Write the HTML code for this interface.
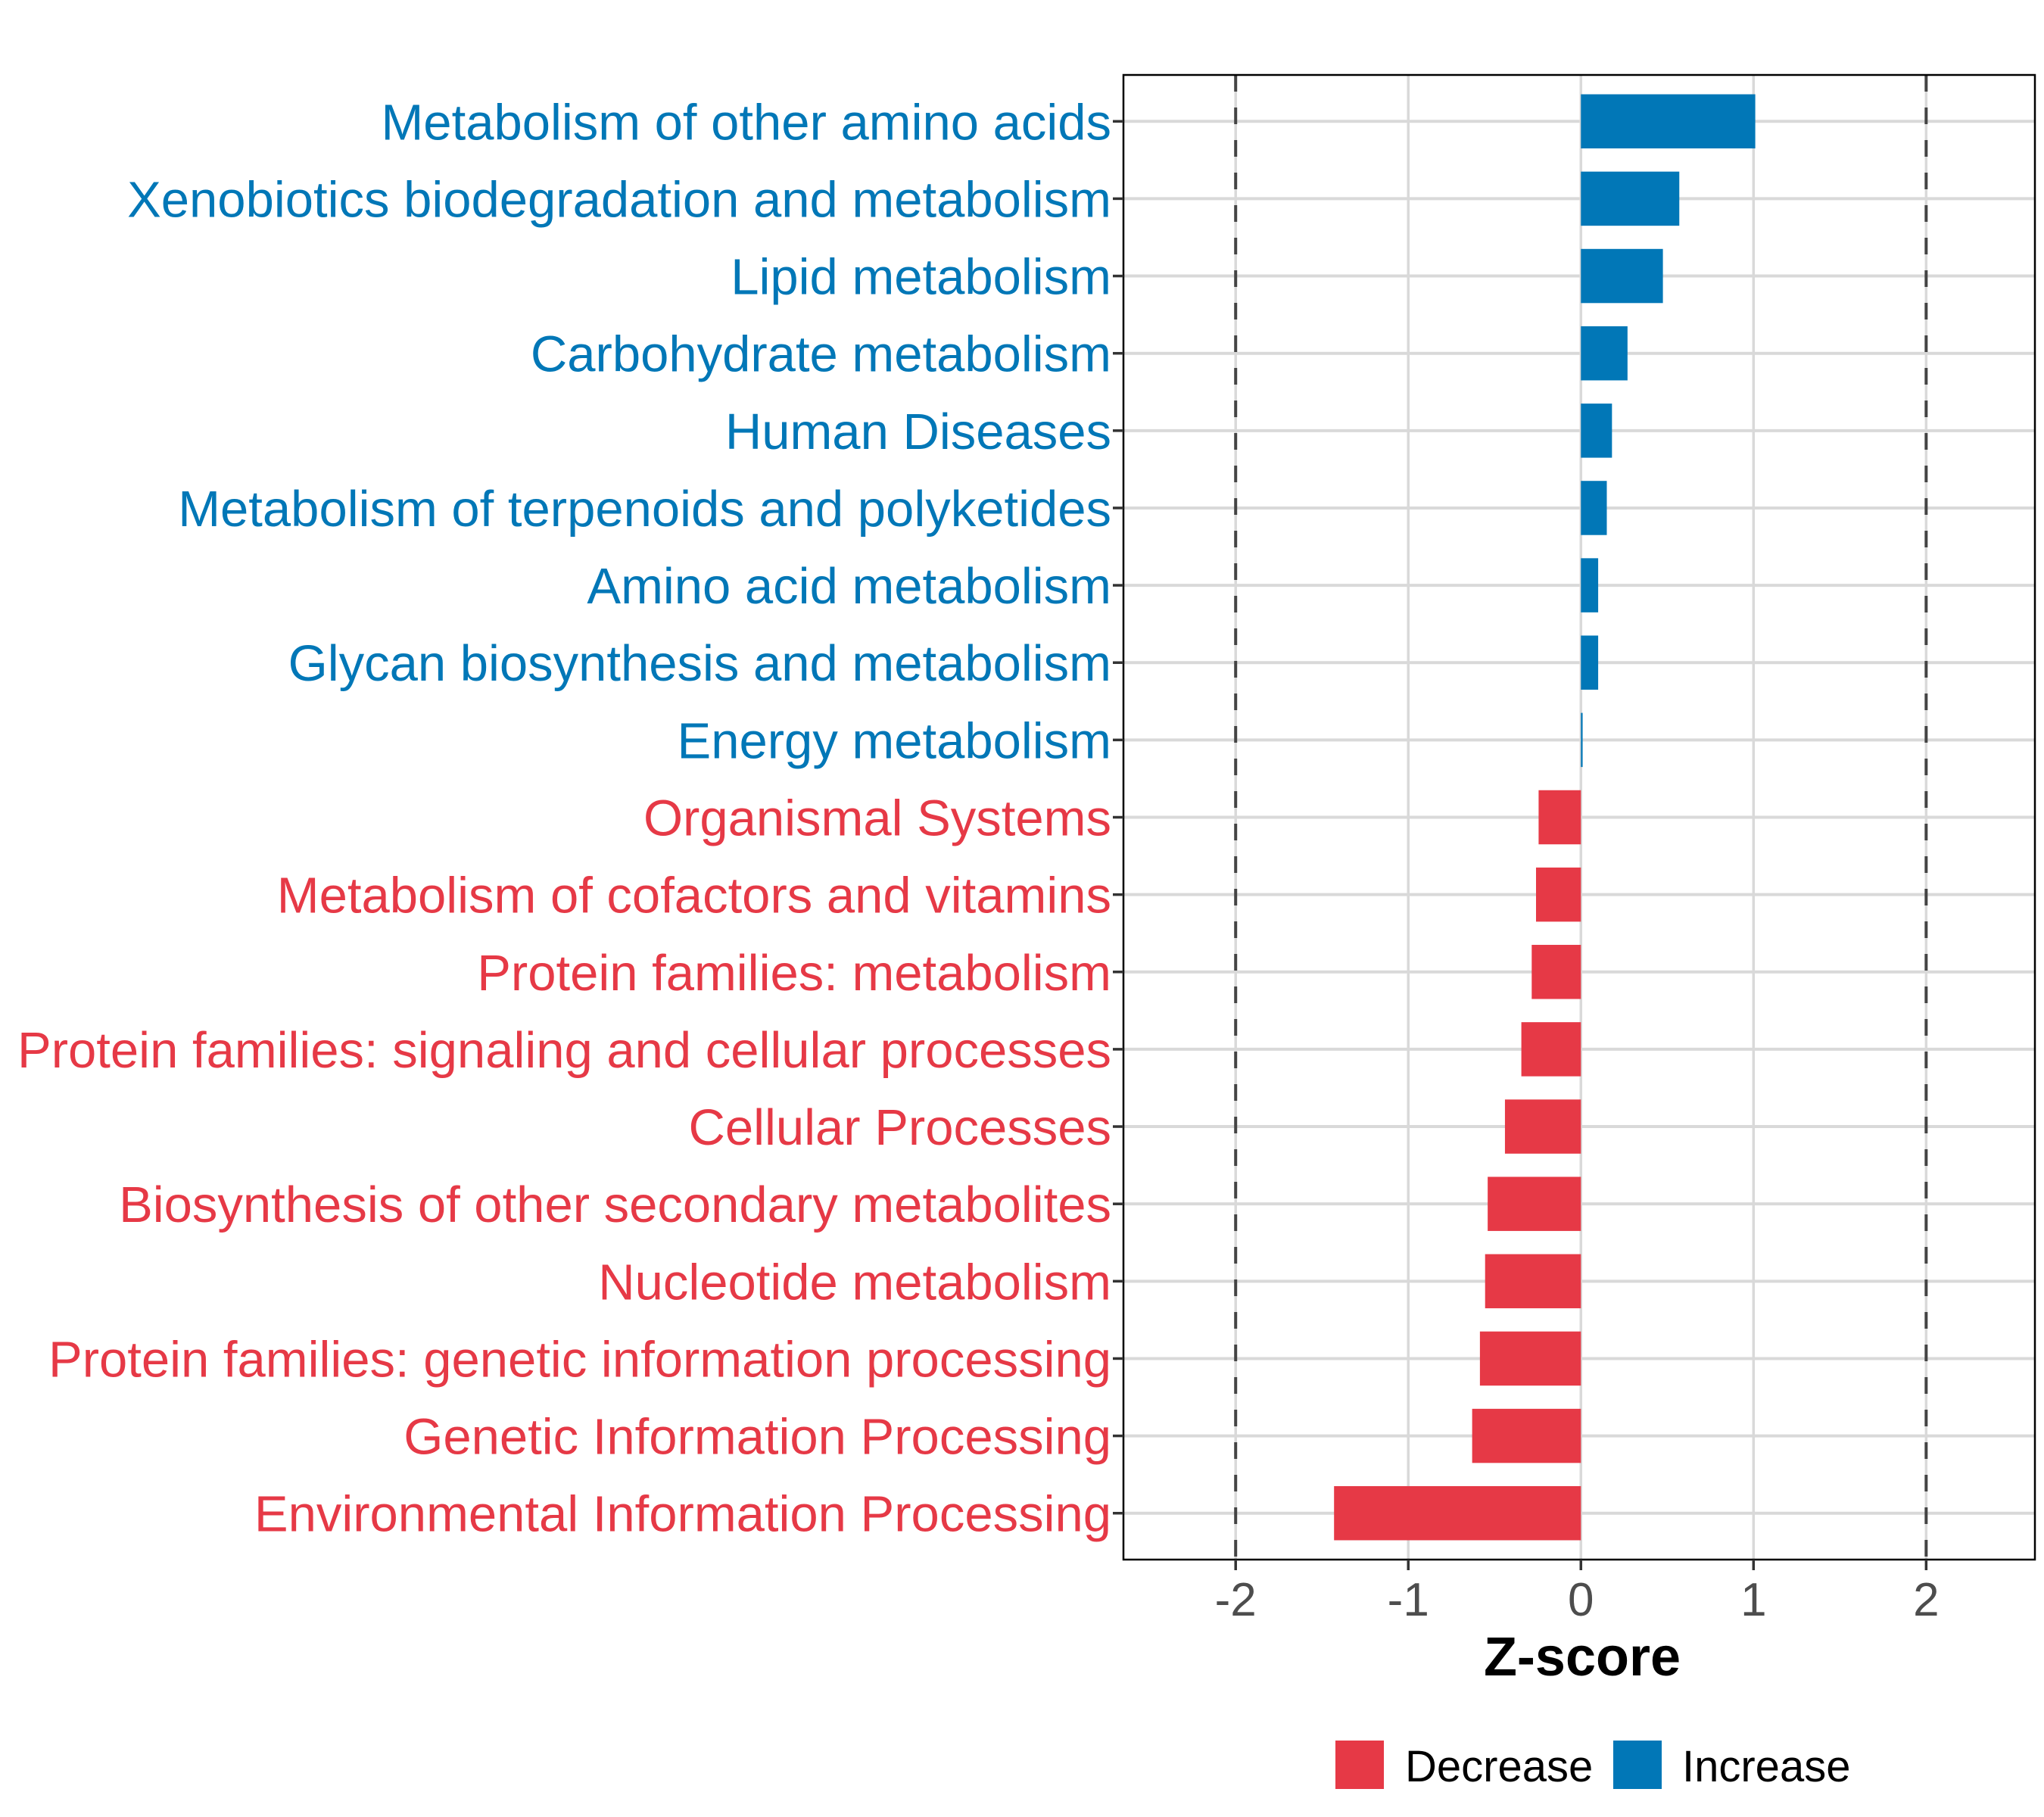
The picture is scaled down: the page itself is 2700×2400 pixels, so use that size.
<!DOCTYPE html>
<html><head><meta charset="utf-8"><style>
html,body{margin:0;padding:0;background:#fff;}
svg{display:block;font-family:"Liberation Sans",Arial,sans-serif;}
</style></head><body>
<svg id="chart" width="2700" height="2400" viewBox="0 0 2700 2400" xmlns="http://www.w3.org/2000/svg">
<rect width="2700" height="2400" fill="#fff"/>
<g id="grid"></g>
<g id="bars"></g>
<g id="ref"></g>
<rect x="1484" y="99" width="1204" height="1961" fill="none" stroke="#000" stroke-width="2.5"/>
<g id="ylabels"></g>
<g id="xticks"></g>
<text x="2090" y="2213" text-anchor="middle" font-size="72" font-weight="bold" fill="#000">Z-score</text>
<g>
<g>
<rect x="1764" y="2299" width="64" height="64" fill="#E63946"/>
<text x="1856" y="2353" font-size="58" fill="#000">Decrease</text>
</g>
<g>
<rect x="2131" y="2299" width="64" height="64" fill="#0177B7"/>
<text x="2222" y="2353" font-size="58" fill="#000">Increase</text>
</g>
</g>
</svg>
<script>
const categories = ["Metabolism of other amino acids","Xenobiotics biodegradation and metabolism","Lipid metabolism","Carbohydrate metabolism","Human Diseases","Metabolism of terpenoids and polyketides","Amino acid metabolism","Glycan biosynthesis and metabolism","Energy metabolism","Organismal Systems","Metabolism of cofactors and vitamins","Protein families: metabolism","Protein families: signaling and cellular processes","Cellular Processes","Biosynthesis of other secondary metabolites","Nucleotide metabolism","Protein families: genetic information processing","Genetic Information Processing","Environmental Information Processing"];
const zscores = [1.01,0.57,0.475,0.27,0.18,0.15,0.10,0.10,0.01,-0.245,-0.26,-0.285,-0.345,-0.44,-0.54,-0.555,-0.585,-0.63,-1.43];
const xTicks = [-2,-1,0,1,2];
const xTickLabels = ["-2","-1","0","1","2"];
const refLines = [-2,2];

const NS="http://www.w3.org/2000/svg";
const X0=1484,X1=2688,XMIN=-2.65,XMAX=2.63;
const Y0=99,Y1=2060;
const n=categories.length;
const xs=v=>X0+(v-XMIN)/(XMAX-XMIN)*(X1-X0);
const step=(Y1-Y0)/(n+0.2);
const ys=i=>Y0+step*(0.6+i);
const BLUE="#0177B7",RED="#E63946";
function mk(t,a,p){const e=document.createElementNS(NS,t);for(const k in a)e.setAttribute(k,a[k]);p.appendChild(e);return e;}
const grid=document.getElementById('grid'),bars=document.getElementById('bars'),ref=document.getElementById('ref'),yl=document.getElementById('ylabels'),xt=document.getElementById('xticks');
xTicks.forEach((v,i)=>{
  const g=mk('line',{x1:xs(v),x2:xs(v),y1:Y0,y2:Y1,stroke:'#d9d9d9','stroke-width':3.5},grid);
  
  
  const t=mk('line',{x1:xs(v),x2:xs(v),y1:Y1,y2:Y1+14,stroke:'#333','stroke-width':3.5},xt);
  
  
  const l=mk('text',{x:xs(v),y:2134,'text-anchor':'middle','font-size':62,fill:'#4d4d4d'},xt);
  l.textContent=xTickLabels[i];
  
  
});
categories.forEach((c,i)=>{
  const y=ys(i),v=zscores[i],col=v>=0?BLUE:RED;
  const g=mk('line',{x1:X0,x2:X1,y1:y,y2:y,stroke:'#d9d9d9','stroke-width':4},grid);
  
  
  const bh=step*0.7;
  const b=mk('rect',{x:Math.min(xs(0),xs(v)),y:y-bh/2,width:Math.max(Math.abs(xs(v)-xs(0)),2),height:bh,fill:col},bars);
  
  
  const tk=mk('line',{x1:X0-14,x2:X0,y1:y,y2:y,stroke:'#333','stroke-width':3.5},yl);
  
  
  const t=mk('text',{x:1468,y:y+24,'text-anchor':'end','font-size':67,fill:col},yl);
  t.textContent=c;
  
  
});
refLines.forEach(v=>{
  const l=mk('line',{x1:xs(v),x2:xs(v),y1:Y0,y2:Y1,stroke:'#444','stroke-width':4,'stroke-dasharray':'22 21'},ref);
  
  
});
</script>
</body></html>
